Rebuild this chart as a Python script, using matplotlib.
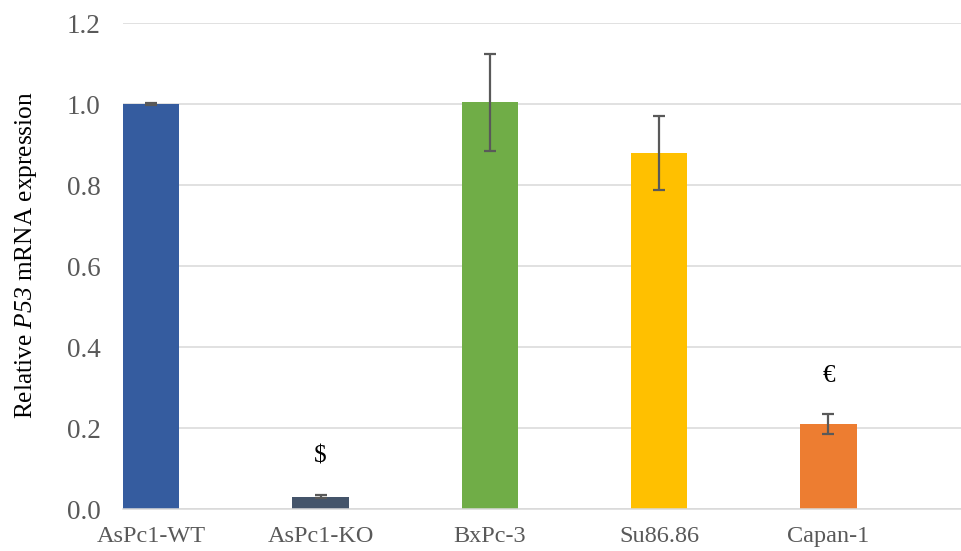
import matplotlib
matplotlib.use("Agg")
import matplotlib.pyplot as plt
import numpy as np

categories = ["AsPc1-WT", "AsPc1-KO", "BxPc-3", "Su86.86", "Capan-1"]
values = [1.0, 0.030, 1.005, 0.880, 0.210]
errors = [0.002, 0.004, 0.120, 0.092, 0.024]
marks = ["", "$", "", "", "€"]
colors = ["#355C9F", "#44546A", "#70AD47", "#FFC000", "#ED7D31"]

plt.rcParams["font.family"] = ["Liberation Serif", "DejaVu Serif"]
plt.rcParams["mathtext.fontset"] = "custom"
plt.rcParams["mathtext.rm"] = "Liberation Serif:italic"
plt.rcParams["mathtext.it"] = "Liberation Serif:italic"

fig = plt.figure(figsize=(9.62, 5.51), dpi=100)
ax = fig.add_axes([0.1279, 0.0762, 0.8721, 0.8815])

x = np.arange(len(categories))
ax.bar(x, values, width=0.333, color=colors, zorder=2)
ax.errorbar(x, values, yerr=errors, fmt="none", ecolor="#595959",
            elinewidth=1.6, capsize=4.5, capthick=1.6, zorder=3)

for xi, v, e, m in zip(x, values, errors, marks):
    if m:
        ax.text(xi, v + e + 0.068, m, ha="center", va="bottom",
                fontsize=18, color="black")

ax.set_xlim(-0.1666, 4.789)
ax.set_ylim(0, 1.2)
ax.set_yticks(np.arange(0, 1.21, 0.2))
ax.set_yticklabels([f"{t:.1f}" for t in np.arange(0, 1.21, 0.2)])
ax.set_xticks(x)
ax.set_xticklabels(categories)
ax.yaxis.grid(True, color="#D9D9D9", linewidth=1.1, zorder=0)
ax.set_axisbelow(True)
for s in ["top", "right", "left"]:
    ax.spines[s].set_visible(False)
ax.spines["bottom"].set_color("#D9D9D9")
ax.spines["bottom"].set_linewidth(1.1)
ax.tick_params(axis="both", length=0, labelcolor="#595959")
ax.tick_params(axis="y", pad=16, labelsize=19.5)
ax.tick_params(axis="x", pad=12, labelsize=17.5)
ax.set_ylabel("Relative $P53$ mRNA expression", fontsize=18.3,
              color="black")
ax.yaxis.set_label_coords(-0.100, 0.523)

fig.savefig("out.png", dpi=100)
